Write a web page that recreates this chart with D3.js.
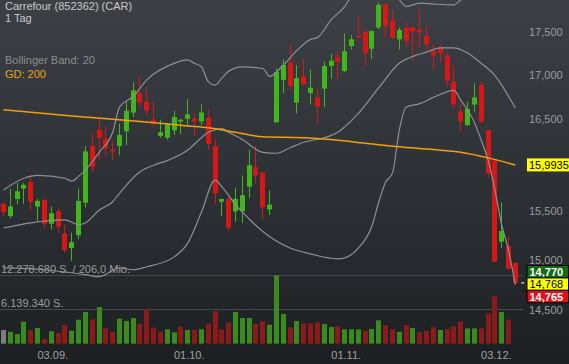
<!DOCTYPE html>
<html>
<head>
<meta charset="utf-8">
<script src="https://cdn.jsdelivr.net/npm/d3@7"></script>
<style>
  body { margin: 0; background: #1e2124; }
  svg { display: block; font-family: "Liberation Sans", Arial, sans-serif; }
</style>
</head>
<body>
<div id="chart"></div>
<script>
// ---- data ----
const openP  = [15.58,15.45,15.63,15.74,15.81,15.55,15.62,15.37,15.50,15.27,15.12,15.25,15.59,16.20,16.38,16.28,16.16,16.20,16.36,16.57,
                16.79,16.69,16.49,16.31,16.29,16.37,16.47,16.50,16.50,16.47,16.51,16.20,15.60,15.63,15.50,15.50,15.76,15.97,15.91,15.52,
                16.46,16.94,17.14,16.68,16.98,16.79,16.74,16.84,17.10,17.20,17.04,17.33,17.45,17.50,17.30,17.55,17.83,17.63,17.41,17.55,
                17.55,17.52,17.45,17.27,17.31,17.22,16.92,16.58,16.43,16.66,16.88,16.375,16.04,15.185,15.14,14.97];
const highP  = [15.59,15.74,15.80,15.80,15.89,15.63,15.63,15.55,15.53,15.36,15.28,15.74,16.20,16.34,16.50,16.41,16.25,16.45,16.69,16.91,
                16.97,16.86,16.69,16.49,16.45,16.59,16.50,16.72,16.57,16.66,16.60,16.28,15.63,15.65,15.75,15.88,16.16,16.20,15.92,15.72,
                17.07,17.18,17.35,17.11,17.18,17.06,16.84,17.15,17.24,17.27,17.48,17.46,17.69,17.50,17.51,17.85,17.84,17.76,17.55,17.61,
                17.56,17.77,17.58,17.35,17.35,17.25,17.10,16.67,16.69,16.90,16.92,16.38,16.05,15.59,15.24,14.97];
const lowP   = [15.45,15.43,15.57,15.58,15.50,15.39,15.32,15.31,15.28,15.07,14.99,15.21,15.54,15.92,16.05,16.09,16.05,16.10,16.21,16.52,
                16.63,16.54,16.41,16.29,16.27,16.32,16.33,16.43,16.31,16.43,16.16,15.58,15.45,15.30,15.39,15.38,15.64,15.80,15.42,15.46,
                16.46,16.79,16.82,16.56,16.87,16.66,16.44,16.63,16.95,16.95,17.03,17.29,17.42,17.10,17.18,17.53,17.43,17.41,17.29,17.31,
                17.16,17.31,17.29,17.06,17.13,16.86,16.61,16.36,16.42,16.58,16.45,15.86,14.975,15.12,14.90,14.75];
const closeP = [15.49,15.55,15.71,15.78,15.60,15.61,15.37,15.48,15.34,15.10,15.18,15.61,16.14,15.97,16.29,16.17,16.14,16.32,16.59,16.82,
                16.68,16.59,16.46,16.35,16.44,16.52,16.49,16.55,16.47,16.57,16.22,15.69,15.63,15.33,15.63,15.67,15.99,15.88,15.54,15.57,
                17.03,17.11,16.87,16.96,16.89,16.85,16.64,17.10,17.16,17.15,17.27,17.41,17.43,17.25,17.51,17.82,17.57,17.43,17.52,17.39,
                17.50,17.49,17.35,17.22,17.25,16.93,16.66,16.47,16.61,16.74,16.47,15.90,14.98,15.295,14.91,14.768];
// volume in shares; the last (running) day has no bar
const volume = [2450000,2140000,1730000,3930000,2450000,2810000,840000,2220000,1910000,3340000,
                2320000,4290000,5670000,4360000,6560000,2750000,2140000,4470000,4060000,4590000,
                3570000,6150000,2860000,2140000,2570000,2040000,3040000,2450000,2450000,2570000,
                3570000,5840000,2570000,3820000,5670000,4590000,4590000,3520000,4000000,3400000,
                12220000,5310000,2930000,4060000,3650000,3650000,3820000,3520000,2980000,3110000,
                2570000,2570000,2570000,2270000,2630000,4180000,3340000,2570000,2140000,3340000,
                2810000,2040000,2270000,2930000,2450000,2630000,3160000,4000000,2750000,2750000,
                2750000,5430000,8470000,5670000,4290000];
const volMax = 12278680;
const volTurnover = "206,0 Mio.";

// indicator lines: [day index, price]
const bbUpper = [[0,15.725],[3,15.85],[5,15.88],[9,15.85],[10,15.82],[11,15.87],[13,16.025],[14,16.13],[16,16.35],[17,16.63],
                 [19,16.75],[21,16.94],[25,17.13],[27,17.17],[28,17.13],[29,17.09],[30,16.92],[31,16.88],[32,16.96],[33,17.04],
                 [35,17.09],[38,17.07],[39,16.98],[41,17.11],[43,17.28],[45,17.41],[46,17.43],[48,17.64],[50,17.80],[51,17.92],
                 [53,18.00],[55,18.02],[57,17.95],[58,17.88],[59,17.80],[61,17.84],[63,17.83],[66,17.82],[67,17.88],[69,18.00],
                 [71,18.20],[73,18.40],[75,18.50]];
const bbMiddle = [[0,15.326],[4,15.38],[9,15.41],[11,15.36],[12,15.38],[14,15.51],[16,15.60],[17,15.69],[20,15.92],[22,15.99],
                  [24,16.04],[27,16.155],[29,16.29],[30,16.35],[32,16.39],[33,16.35],[35,16.27],[38,16.13],[40,16.12],[42,16.18],
                  [44,16.24],[47,16.29],[49,16.35],[50,16.41],[52,16.56],[55,16.85],[58,17.13],[60,17.21],[62,17.26],[64,17.31],
                  [66,17.31],[68,17.25],[70,17.13],[72,16.99],[73,16.88],[75,16.62]];
const bbLower = [[0,14.918],[6,14.90],[12,14.85],[14,14.83],[17,14.92],[19,14.90],[21,14.93],[25,15.03],[27,15.17],[29,15.49],
                 [31,15.83],[32,15.76],[34,15.57],[36,15.42],[38,15.29],[42,15.12],[45,15.06],[49,15.01],[50,15.02],[52,15.12],
                 [54,15.35],[55,15.60],[56,15.81],[57,15.905],[58,16.375],[59,16.63],[61,16.67],[63,16.74],[66,16.82],[67,16.71],
                 [69,16.46],[70,16.265],[71,16.05],[72,15.73],[73,15.36],[74,15.10],[75,14.75]];
const gd200 = [[0,16.60],[10,16.53],[20,16.47],[27,16.42],[30,16.40],[34,16.35],[38,16.30],[44,16.29],[48,16.27],[53,16.23],
               [58,16.19],[63,16.16],[67,16.13],[71,16.07],[75,15.9935]];

const xTickIdx = [7, 27, 50, 72];
const xTickLabels = ["03.09.", "01.10.", "01.11.", "03.12."];
const yTicks = [14.5, 15, 15.5, 16.5, 17, 17.5];
const quoteVals = [14.770, 14.768, 14.765];   // bid / last / ask
const quoteFill = ["#106e10", "#ffff00", "#e3101c"];
const quoteText = ["#ffffff", "#000000", "#ffffff"];

// ---- setup ----
const W = 569, H = 364;
const de = d3.formatLocale({ decimal: ",", thousands: ".", grouping: [3], currency: ["", " €"] });
const fmtPrice = de.format(",.3f");
const fmtInt = de.format(",d");

const svg = d3.select("#chart").append("svg")
    .attr("width", W)
    .attr("height", H);

const defs = svg.append("defs");
const grad = defs.append("linearGradient").attr("id", "bg")
    .attr("x1", 0).attr("y1", 0).attr("x2", 0).attr("y2", 1);
grad.append("stop").attr("offset", "0%").attr("stop-color", "#3c4044");
grad.append("stop").attr("offset", "55%").attr("stop-color", "#2c3034");
grad.append("stop").attr("offset", "100%").attr("stop-color", "#1c1f22");
defs.append("clipPath").attr("id", "plotClip")
    .append("rect").attr("x", 0).attr("y", 0).attr("width", 519).attr("height", 300);

svg.append("rect").attr("width", W).attr("height", H).attr("fill", "url(#bg)");

const x = d3.scaleLinear().domain([0, closeP.length - 1]).range([3.5, 515.3]);
const y = d3.scaleLog().domain([14.5, 17.5]).range([310, 31.7]);
const yVol = d3.scaleLinear().domain([0, volMax]).range([343.7, 275]);

// ---- volume pane ----
svg.selectAll(".vol-grid")
    .data([volMax, volMax / 2])
    .enter().append("line")
    .attr("class", "vol-grid")
    .attr("x1", 0).attr("x2", 523)
    .attr("y1", d => Math.round(yVol(d)) + 0.5)
    .attr("y2", d => Math.round(yVol(d)) + 0.5)
    .attr("stroke", "#45494d")
    .attr("stroke-width", 1);

svg.selectAll(".vol")
    .data(volume)
    .enter().append("rect")
    .attr("class", "vol")
    .attr("x", (d, i) => Math.round(x(i) - 2.5))
    .attr("width", 5)
    .attr("y", d => yVol(d))
    .attr("height", d => yVol(0) - yVol(d))
    .attr("fill", (d, i) => i === 0 ? "#7d7d7d" : (closeP[i] >= closeP[i - 1] ? "#3b8a1f" : "#8b1a1a"));

svg.append("text")
    .attr("x", 1).attr("y", 272.5)
    .attr("fill", "#9c9c9c").attr("font-size", "11px")
    .text(fmtInt(volMax) + " S. / " + volTurnover);
svg.append("text")
    .attr("x", 1).attr("y", 306.5)
    .attr("fill", "#9c9c9c").attr("font-size", "11px")
    .text(fmtInt(volMax / 2) + " S.");

// ---- price pane ----
const plot = svg.append("g").attr("clip-path", "url(#plotClip)");

const candles = plot.selectAll(".candle")
    .data(closeP.map((c, i) => ({ i, o: openP[i], h: highP[i], l: lowP[i], c })))
    .enter().append("g")
    .attr("class", "candle");

const candleColor = d => d.c >= d.o ? "#41b51c" : "#d81616";

candles.append("line")
    .attr("x1", d => Math.round(x(d.i) - 2.5) + 2.5)
    .attr("x2", d => Math.round(x(d.i) - 2.5) + 2.5)
    .attr("y1", d => y(d.h))
    .attr("y2", d => y(d.l))
    .attr("stroke", candleColor)
    .attr("stroke-width", 1);

candles.append("rect")
    .attr("x", d => Math.round(x(d.i) - 2.5))
    .attr("width", 5)
    .attr("y", d => y(Math.max(d.o, d.c)))
    .attr("height", d => Math.max(1.5, Math.abs(y(d.o) - y(d.c))))
    .attr("fill", candleColor);

const line = d3.line()
    .x(d => x(d[0]))
    .y(d => y(d[1]))
    .curve(d3.curveMonotoneX);

[bbUpper, bbMiddle, bbLower].forEach(band => {
    plot.append("path")
        .datum(band)
        .attr("fill", "none")
        .attr("stroke", "#8e9093")
        .attr("stroke-width", 1.2)
        .attr("d", line);
});

plot.append("path")
    .datum(gd200)
    .attr("fill", "none")
    .attr("stroke", "#f0a00a")
    .attr("stroke-width", 1.5)
    .attr("d", line);

// ---- right axis ----
svg.selectAll(".ytick")
    .data(yTicks)
    .enter().append("text")
    .attr("class", "ytick")
    .attr("x", 529)
    .attr("y", d => y(d) + 4)
    .attr("fill", "#9c9c9c")
    .attr("font-size", "11px")
    .text(d => fmtPrice(d));

// moving average value tag
const maLast = gd200[gd200.length - 1][1];
svg.append("rect")
    .attr("x", 527).attr("y", y(maLast) - 6.5)
    .attr("width", 42).attr("height", 13)
    .attr("fill", "#ffff00");
svg.append("text")
    .attr("x", 529).attr("y", y(maLast) + 4)
    .attr("fill", "#000").attr("font-size", "11px")
    .text(de.format(",.4f")(maLast));

// bid / last / ask tags
const tagTop = 265.5;
quoteVals.forEach((v, k) => {
    svg.append("rect")
        .attr("x", 527).attr("y", tagTop + k * 12.4)
        .attr("width", 41.5).attr("height", 12.4)
        .attr("fill", quoteFill[k])
        .attr("stroke", "#000").attr("stroke-width", 1);
    svg.append("text")
        .attr("x", 529.5).attr("y", tagTop + k * 12.4 + 10.2)
        .attr("fill", quoteText[k])
        .attr("font-size", "11px")
        .attr("font-weight", k === 1 ? "normal" : "bold")
        .text(fmtPrice(v));
});
svg.append("line")
    .attr("x1", 521).attr("x2", 524.5)
    .attr("y1", y(quoteVals[1])).attr("y2", y(quoteVals[1]))
    .attr("stroke", "#cfcfcf").attr("stroke-width", 1.2);

// ---- x axis labels ----
svg.selectAll(".xtick")
    .data(xTickIdx)
    .enter().append("text")
    .attr("class", "xtick")
    .attr("x", d => x(d) + 1.5)
    .attr("y", 359)
    .attr("text-anchor", "middle")
    .attr("fill", "#a2a2a2")
    .attr("font-size", "11px")
    .text((d, k) => xTickLabels[k]);

// ---- header texts ----
svg.append("text")
    .attr("x", 5).attr("y", 10)
    .attr("fill", "#c9c9c9").attr("font-size", "11px")
    .text("Carrefour (852362) (CAR)");
svg.append("text")
    .attr("x", 5).attr("y", 22.4)
    .attr("fill", "#c9c9c9").attr("font-size", "11px")
    .text("1 Tag");
svg.append("text")
    .attr("x", 5).attr("y", 64)
    .attr("fill", "#8c8c8c").attr("font-size", "11px")
    .text("Bollinger Band: 20");
svg.append("text")
    .attr("x", 5).attr("y", 77.5)
    .attr("fill", "#e8a21a").attr("font-size", "11px")
    .text("GD: 200");
</script>
</body>
</html>
